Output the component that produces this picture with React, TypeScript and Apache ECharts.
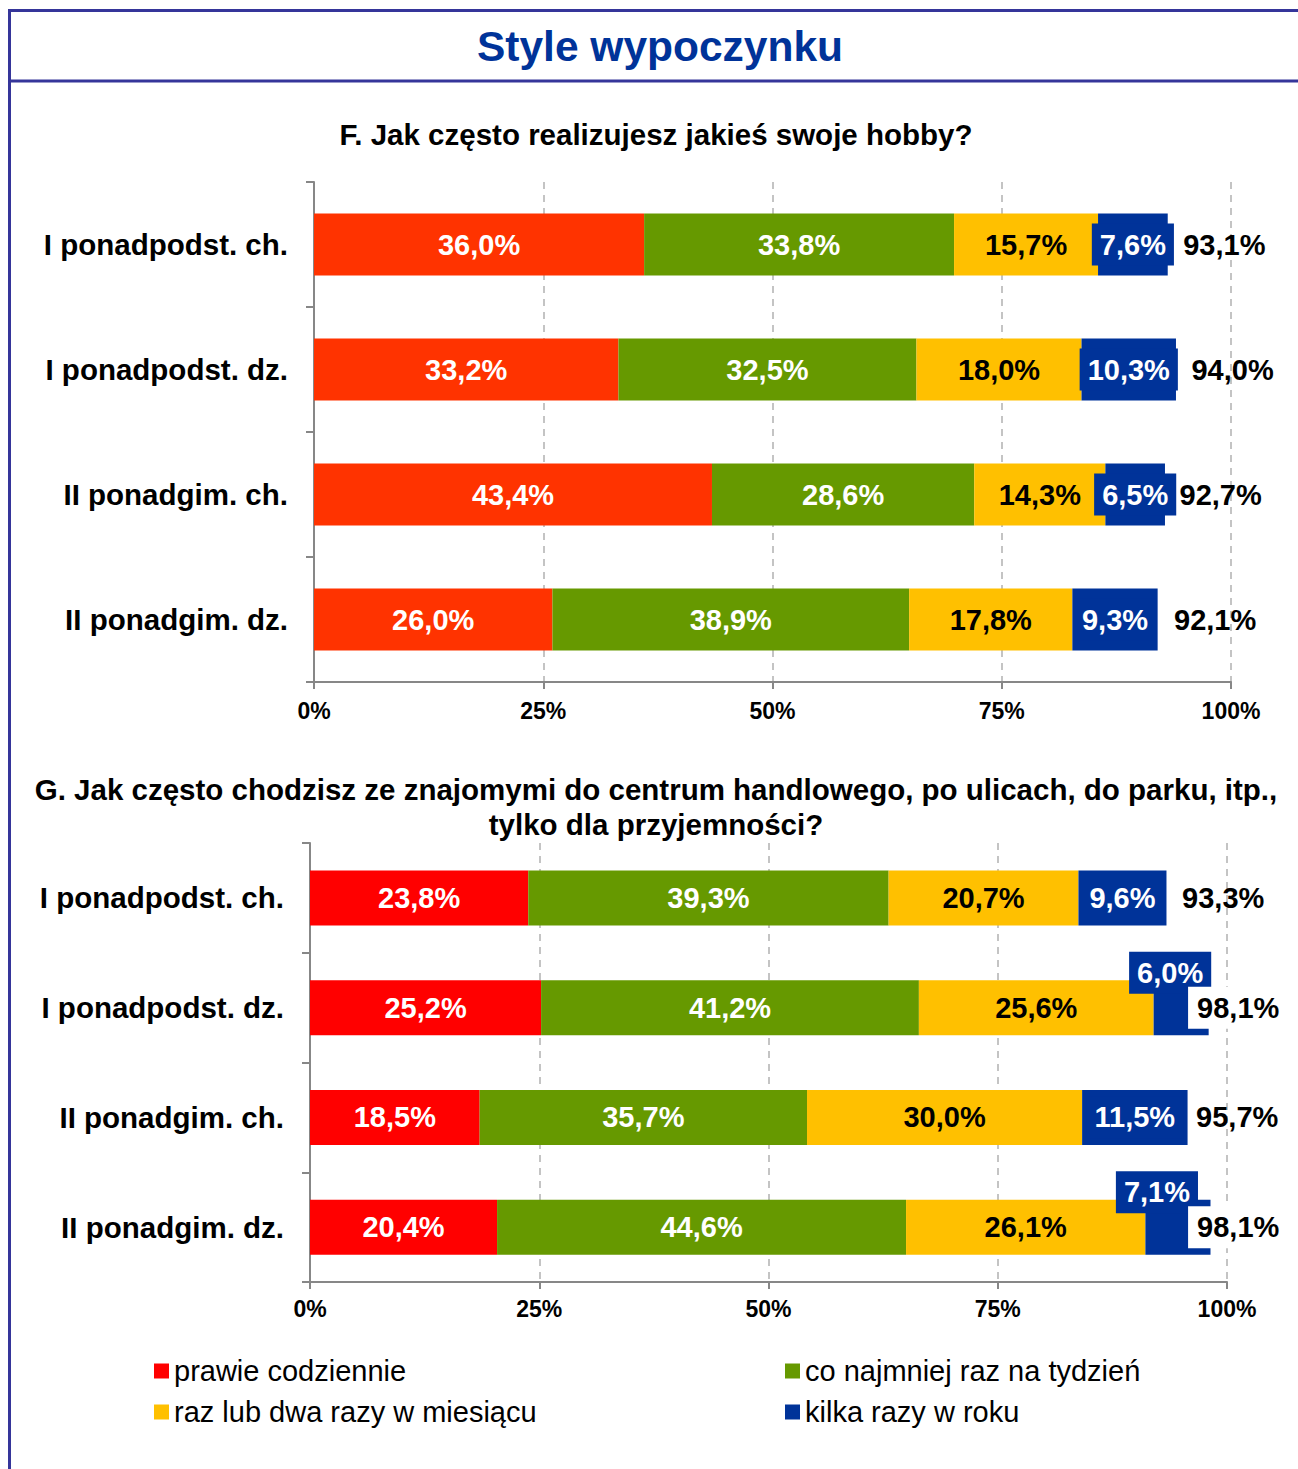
import React, { useEffect, useRef } from "react";
import * as echarts from "echarts";

const categories = ["I ponadpodst. ch.", "I ponadpodst. dz.", "II ponadgim. ch.", "II ponadgim. dz."];
const seriesNames = ["prawie codziennie", "co najmniej raz na tydzień", "raz lub dwa razy w miesiącu", "kilka razy w roku"];

const fDaily = [36.0, 33.2, 43.4, 26.0];
const fWeekly = [33.8, 32.5, 28.6, 38.9];
const fMonthly = [15.7, 18.0, 14.3, 17.8];
const fYearly = [7.6, 10.3, 6.5, 9.3];
const fTotal = [93.1, 94.0, 92.7, 92.1];

const gDaily = [23.8, 25.2, 18.5, 20.4];
const gWeekly = [39.3, 41.2, 35.7, 44.6];
const gMonthly = [20.7, 25.6, 30.0, 26.1];
const gYearly = [9.6, 6.0, 11.5, 7.1];
const gTotal = [93.3, 98.1, 95.7, 98.1];

const xTicks = [0, 25, 50, 75, 100];

const mainTitle = "Style wypoczynku";
const titleF = "F. Jak często realizujesz jakieś swoje hobby?";
const titleG1 = "G. Jak często chodzisz ze znajomymi do centrum handlowego, po ulicach, do parku, itp.,";
const titleG2 = "tylko dla przyjemności?";

const FONT = "'Liberation Sans', Arial, Helvetica, sans-serif";
const fColors = ["#FF3300", "#669900", "#FFC000", "#003399"];
const gColors = ["#FF0000", "#669900", "#FFC000", "#003399"];
const labelColors = ["#FFFFFF", "#FFFFFF", "#000000", "#FFFFFF"];
const frameColor = "#35359a";

const fmt = (v: number) => v.toFixed(1).replace(".", ",") + "%";

export default function App() {
  const ref = useRef<HTMLDivElement>(null);

  useEffect(() => {
    if (!ref.current) return;
    const chart = echarts.init(ref.current, null, { renderer: "svg" });

    const axisGray = "#878787";

    const makeXAxis = (gridIndex: number, margin: number) => ({
      type: "value",
      gridIndex,
      min: xTicks[0],
      max: xTicks[xTicks.length - 1],
      interval: xTicks[1] - xTicks[0],
      axisLine: { show: true, lineStyle: { color: axisGray, width: 2 } },
      axisTick: { show: true, length: 7, lineStyle: { color: axisGray, width: 2 } },
      axisLabel: {
        margin,
        formatter: (v: number) => v + "%",
        color: "#000",
        fontWeight: "bold",
        fontSize: 23,
        fontFamily: FONT,
      },
      splitLine: { show: true, lineStyle: { color: "#c4c4c4", width: 2, type: [7, 6] } },
    });

    const makeYAxis = (gridIndex: number) => ({
      type: "category",
      gridIndex,
      inverse: true,
      data: categories,
      axisLine: { show: true, lineStyle: { color: axisGray, width: 2 } },
      axisTick: { show: true, length: 8, lineStyle: { color: axisGray, width: 2 } },
      axisLabel: {
        margin: 26,
        color: "#000",
        fontWeight: "bold",
        fontSize: 29.5,
        fontFamily: FONT,
      },
    });

    const barLabel = (i: number) => {
      const base: any = {
        show: true,
        position: "inside",
        formatter: (p: any) => fmt(p.value),
        color: labelColors[i],
        fontWeight: "bold",
        fontSize: 29,
        fontFamily: FONT,
        lineHeight: 34,
      };
      if (i === 3) {
        base.backgroundColor = "#003399";
        base.padding = [4, 8];
      }
      return base;
    };

    const fData = [fDaily, fWeekly, fMonthly, fYearly];
    const gData = [gDaily, gWeekly, gMonthly, gYearly];

    // G blue labels moved above the bar for the narrow segments
    const gBlueOffsets: Record<number, number[]> = { 1: [-11, -35], 3: [-21, -35] };

    const series: any[] = [];

    gData.forEach((arr, i) => {
      series.push({
        type: "bar",
        name: seriesNames[i],
        xAxisIndex: 1,
        yAxisIndex: 1,
        stack: "g",
        barWidth: 55,
        itemStyle: { color: gColors[i] },
        label: barLabel(i),
        data: arr.map((v, j) =>
          i === 3 && gBlueOffsets[j] ? { value: v, label: { offset: gBlueOffsets[j] } } : v
        ),
      });
    });

    fData.forEach((arr, i) => {
      series.push({
        type: "bar",
        name: seriesNames[i],
        xAxisIndex: 0,
        yAxisIndex: 0,
        stack: "f",
        barWidth: 62,
        itemStyle: { color: fColors[i] },
        label: barLabel(i),
        data: arr,
      });
    });

    const totalLabel = {
      show: true,
      position: "right",
      distance: 15,
      formatter: (p: any) => fmt(p.value[0]),
      color: "#000",
      fontWeight: "bold",
      fontSize: 29,
      fontFamily: FONT,
      lineHeight: 34,
      opacity: 1,
    };

    series.push({
      type: "scatter",
      name: "Razem F",
      xAxisIndex: 0,
      yAxisIndex: 0,
      symbolSize: 1,
      z: 5,
      itemStyle: { color: "rgba(0,0,0,0)", opacity: 1 },
      label: totalLabel,
      data: fTotal.map((v, j) => [v, j]),
    });

    const gTotalOverrides: Record<number, any> = {
      0: { distance: 16 },
      1: { distance: 0, offset: [-22, 0], backgroundColor: "#FFFFFF", padding: [4, 9] },
      2: { distance: 8 },
      3: { distance: 0, offset: [-22, 0], backgroundColor: "#FFFFFF", padding: [4, 9] },
    };

    series.push({
      type: "scatter",
      name: "Razem G",
      xAxisIndex: 1,
      yAxisIndex: 1,
      symbolSize: 1,
      z: 5,
      itemStyle: { color: "rgba(0,0,0,0)", opacity: 1 },
      label: totalLabel,
      data: gTotal.map((v, j) => ({ value: [v, j], label: gTotalOverrides[j] })),
    });

    const legendText = { color: "#000", fontSize: 29, fontFamily: FONT, lineHeight: 30 };

    chart.setOption({
      animation: false,
      backgroundColor: "#FFFFFF",
      grid: [
        { left: 314, width: 917, top: 182, height: 500 },
        { left: 310, width: 917, top: 843, height: 439 },
      ],
      xAxis: [makeXAxis(0, 17), makeXAxis(1, 15)],
      yAxis: [makeYAxis(0), makeYAxis(1)],
      legend: [
        {
          orient: "vertical",
          left: 154,
          top: 1356,
          padding: 0,
          itemGap: 11,
          itemWidth: 15,
          itemHeight: 15,
          icon: "rect",
          selectedMode: false,
          textStyle: legendText,
          data: [
            { name: seriesNames[0], itemStyle: { color: gColors[0] } },
            { name: seriesNames[2], itemStyle: { color: gColors[2] } },
          ],
        },
        {
          orient: "vertical",
          left: 785,
          top: 1356,
          padding: 0,
          itemGap: 11,
          itemWidth: 15,
          itemHeight: 15,
          icon: "rect",
          selectedMode: false,
          textStyle: legendText,
          data: [
            { name: seriesNames[1], itemStyle: { color: gColors[1] } },
            { name: seriesNames[3], itemStyle: { color: gColors[3] } },
          ],
        },
      ],
      graphic: [
        { type: "line", shape: { x1: 8, y1: 10.5, x2: 1298, y2: 10.5 }, style: { stroke: frameColor, lineWidth: 3 } },
        { type: "line", shape: { x1: 8, y1: 81, x2: 1298, y2: 81 }, style: { stroke: frameColor, lineWidth: 3 } },
        { type: "line", shape: { x1: 9.5, y1: 9, x2: 9.5, y2: 1469 }, style: { stroke: frameColor, lineWidth: 3 } },
        {
          type: "text",
          x: 660,
          y: 46,
          style: {
            text: mainTitle,
            fill: "#003399",
            font: `bold 42.5px ${FONT}`,
            textAlign: "center",
            textVerticalAlign: "middle",
          },
        },
        {
          type: "text",
          x: 656,
          y: 134,
          style: {
            text: titleF,
            fill: "#000",
            font: `bold 29.5px ${FONT}`,
            textAlign: "center",
            textVerticalAlign: "middle",
          },
        },
        {
          type: "text",
          x: 656,
          y: 789,
          style: {
            text: titleG1,
            fill: "#000",
            font: `bold 29.5px ${FONT}`,
            textAlign: "center",
            textVerticalAlign: "middle",
          },
        },
        {
          type: "text",
          x: 656,
          y: 824,
          style: {
            text: titleG2,
            fill: "#000",
            font: `bold 29.5px ${FONT}`,
            textAlign: "center",
            textVerticalAlign: "middle",
          },
        },
      ],
      series,
    });

    return () => chart.dispose();
  }, []);

  return (
    <div
      ref={ref}
      style={{ position: "absolute", left: 0, top: 0, width: 1298, height: 1469, background: "#fff" }}
    />
  );
}
